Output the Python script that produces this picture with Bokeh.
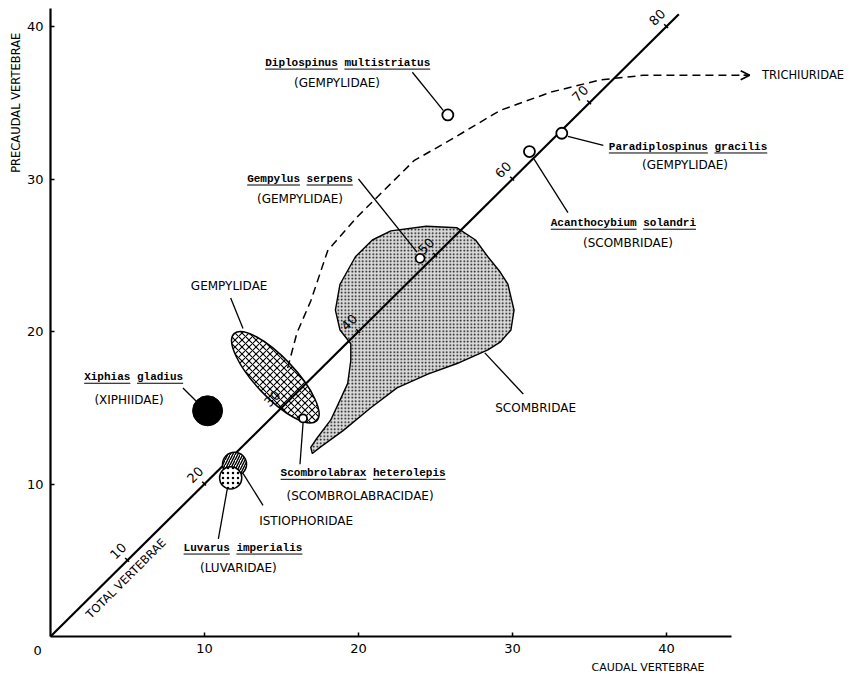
import math
from bokeh.plotting import figure
from bokeh.models import Range1d, Arrow, OpenHead
from bokeh.core.properties import value
from bokeh.embed import file_html
from bokeh.resources import INLINE

# ---------------- data ----------------
x_ticks = [10, 20, 30, 40]
y_ticks = [10, 20, 30, 40]
x_axis_end = 44.2
y_axis_end = 41.2

total_ticks = [10, 20, 30, 40, 50, 60, 70, 80]
total_line_end = 40.8

# single species shown as open circles (caudal, precaudal)
open_names = ["Diplospinus multistriatus", "Paradiplospinus gracilis",
              "Acanthocybium solandri", "Gempylus serpens",
              "Scombrolabrax heterolepis"]
open_caudal = [25.8, 33.2, 31.1, 24.0, 16.4]
open_precaudal = [34.2, 33.0, 31.8, 24.8, 14.3]

xiphias_caudal = [10.2]
xiphias_precaudal = [14.8]

istio_caudal = [11.95]
istio_precaudal = [11.3]
luvarus_caudal = [11.7]
luvarus_precaudal = [10.4]

# Gempylidae range (ellipse): centre, long / short axis, tilt (deg)
gemp_caudal = [14.6]
gemp_precaudal = [17.0]
gemp_long = 7.8
gemp_short = 2.6
gemp_tilt = -46.6

# Scombridae range outline
scomb_caudal = [22.1, 24.4, 26.4, 27.6, 28.4, 29.2, 29.7, 30.1, 29.9, 29.2,
                28.4, 26.4, 24.5, 22.5, 20.8, 19.0, 17.5, 17.0, 16.9, 17.3,
                18.2, 18.8, 19.3, 19.5, 19.5, 18.8, 18.5, 18.8, 19.8, 20.9]
scomb_precaudal = [26.6, 26.9, 26.8, 26.0, 24.9, 23.9, 23.1, 21.4, 20.1, 19.3,
                   18.8, 17.9, 17.2, 16.3, 15.0, 13.5, 12.4, 12.0, 12.4, 13.0,
                   14.2, 15.5, 16.6, 18.1, 19.2, 20.1, 21.4, 23.1, 24.9, 26.0]

# trend toward Trichiuridae (dashed)
trend_caudal = [15.4, 16.0, 16.9, 18.0, 19.9, 21.0, 23.6, 26.2, 29.2, 32.5,
                35.7, 38.5, 42.0, 45.4]
trend_precaudal = [17.6, 19.9, 22.0, 25.3, 27.5, 28.6, 31.2, 32.7, 34.5, 35.7,
                   36.5, 36.8, 36.8, 36.8]

species_labels = ["Diplospinus multistriatus", "Paradiplospinus gracilis",
                  "Acanthocybium solandri", "Gempylus serpens",
                  "Xiphias gladius", "Scombrolabrax heterolepis",
                  "Luvarus imperialis"]
family_labels = ["(GEMPYLIDAE)", "(GEMPYLIDAE)", "(SCOMBRIDAE)", "(GEMPYLIDAE)",
                 "(XIPHIIDAE)", "(SCOMBROLABRACIDAE)", "(LUVARIDAE)"]
group_labels = ["GEMPYLIDAE", "SCOMBRIDAE", "ISTIOPHORIDAE"]

# ---------------- layout (label placement) ----------------
sp_lx = [19.3, 41.4, 37.2, 16.2, 5.4, 20.3, 12.5]
sp_ly = [37.6, 32.1, 27.1, 30.0, 17.0, 10.7, 5.8]
fam_lx = [18.6, 41.2, 37.5, 16.2, 5.1, 20.1, 12.2]
fam_ly = [36.3, 30.9, 25.8, 28.7, 15.5, 9.2, 4.5]
grp_lx = [11.6, 31.5, 16.6]
grp_ly = [23.0, 15.0, 7.6]

lead_x0 = [23.5, 33.6, 31.4, 20.0, 8.6, 16.4, 11.5, 11.7, 28.2, 12.5]
lead_y0 = [37.0, 32.8, 31.3, 30.0, 16.3, 14.0, 9.8, 22.2, 18.6, 10.7]
lead_x1 = [25.5, 35.9, 33.6, 23.8, 9.6, 16.2, 10.9, 12.5, 30.7, 13.8]
lead_y1 = [34.5, 32.2, 27.8, 25.2, 15.3, 11.3, 6.4, 20.2, 15.9, 8.6]

W, H = 854, 674
PXX, PXY = 15.4, 15.25          # pixels per vertebra
OX, OY = 50, 636                # origin position in the figure
X0, X1 = -OX / PXX, (W - OX) / PXX
Y0, Y1 = -(H - OY) / PXY, OY / PXY
sx, sy = PXX, PXY

SANS = "DejaVu Sans"
MONO = "Liberation Mono"

p = figure(width=W, height=H, x_range=Range1d(X0, X1), y_range=Range1d(Y0, Y1),
           output_backend="svg", toolbar_location=None, min_border=0)
p.outline_line_color = None
p.xgrid.visible = False
p.ygrid.visible = False
p.background_fill_color = "white"

for ax, end, ticks in ((p.xaxis, x_axis_end, x_ticks), (p.yaxis, y_axis_end, y_ticks)):
    ax.fixed_location = 0
    ax.bounds = (0, end)
    ax.ticker = ticks
    ax.axis_line_width = 2.2
    ax.axis_line_color = "black"
    ax.major_tick_in = 4
    ax.major_tick_out = 0
    ax.major_tick_line_width = 1.5
    ax.minor_tick_in = 0
    ax.minor_tick_out = 0
    ax.major_label_text_font = SANS
    ax.major_label_text_font_size = "13px"
    ax.major_label_text_color = "black"
    ax.major_label_standoff = 7

# Scombridae range
p.patch(scomb_caudal, scomb_precaudal, fill_color="#dadada", line_color="black",
        line_width=1.4, hatch_pattern="dot", hatch_scale=3.5, hatch_color="black",
        hatch_weight=0.9)

# Gempylidae ellipse
p.ellipse(x=gemp_caudal, y=gemp_precaudal, width=gemp_long, height=gemp_short,
          angle=math.radians(gemp_tilt), fill_color="white", line_color="black",
          line_width=1.5, hatch_pattern="diagonal_cross", hatch_scale=7,
          hatch_weight=1.1, hatch_color="black")

# dashed trend
p.line(trend_caudal, trend_precaudal, line_color="black", line_width=1.5,
       line_dash="8 5")
p.add_layout(Arrow(end=OpenHead(size=9, line_width=1.6),
                   x_start=trend_caudal[-1] - 0.4, y_start=trend_precaudal[-1],
                   x_end=trend_caudal[-1], y_end=trend_precaudal[-1],
                   line_width=1.5))

# total vertebrae line
p.line([0, total_line_end], [0, total_line_end], line_color="black", line_width=2.2)
tk = [t / 2 for t in total_ticks]
p.segment(x0=[v - 0.15 for v in tk], y0=[v + 0.15 for v in tk],
          x1=[v + 0.1 for v in tk], y1=[v - 0.1 for v in tk],
          line_color="black", line_width=1.5)
p.text(x=[v - 0.6 for v in tk], y=[v + 0.6 for v in tk],
       text=[str(t) for t in total_ticks], angle=math.pi / 4,
       text_font=value(SANS), text_font_size="13px", text_align="center",
       text_baseline="middle", text_color="black")
p.text(x=[4.9], y=[3.8], text=["TOTAL VERTEBRAE"], angle=math.pi / 4,
       text_font=value(SANS), text_font_size="11.5px", text_align="center",
       text_baseline="middle", text_color="black")

# Istiophoridae & Luvarus
p.circle(x=istio_caudal, y=istio_precaudal, radius=0.78, fill_color="white",
         line_color="black", line_width=1.5, hatch_pattern="right_diagonal_line",
         hatch_scale=5, hatch_weight=1.4, hatch_color="black")
p.circle(x=luvarus_caudal, y=luvarus_precaudal, radius=0.72, fill_color="white",
         line_color="black", line_width=1.5, hatch_pattern="dot",
         hatch_scale=5, hatch_weight=1.6, hatch_color="black")

# Xiphias
p.scatter(x=xiphias_caudal, y=xiphias_precaudal, size=30, marker="circle",
          fill_color="black", line_color="black")

# leaders
p.segment(x0=lead_x0, y0=lead_y0, x1=lead_x1, y1=lead_y1, line_color="black",
          line_width=1.3)

# open circles
p.scatter(x=open_caudal, y=open_precaudal, size=[11, 11, 11, 9, 8],
          marker="circle", fill_color="white", line_color="black", line_width=1.8)

# species labels (monospace, underlined per word)
p.text(x=sp_lx, y=sp_ly, text=species_labels, text_font=value(MONO),
       text_font_style="bold", text_font_size="11px", text_align="center",
       text_baseline="middle", text_color="black")
cw = 0.6 * 11
ux0, ux1, uy = [], [], []
for lab, cx, cy in zip(species_labels, sp_lx, sp_ly):
    start = -len(lab) * cw / 2
    i = 0
    for word in lab.split(" "):
        ux0.append(cx + (start + i * cw) / sx)
        ux1.append(cx + (start + (i + len(word)) * cw) / sx)
        uy.append(cy - 6 / sy)
        i += len(word) + 1
p.segment(x0=ux0, y0=uy, x1=ux1, y1=uy, line_color="black", line_width=1)

p.text(x=fam_lx, y=fam_ly, text=family_labels, text_font=value(SANS),
       text_font_size="12px", text_align="center", text_baseline="middle",
       text_color="black")
p.text(x=grp_lx, y=grp_ly, text=group_labels, text_font=value(SANS),
       text_font_size="12px", text_align="center", text_baseline="middle",
       text_color="black")
p.text(x=[trend_caudal[-1] + 0.8], y=[trend_precaudal[-1]], text=["TRICHIURIDAE"],
       text_font=value(SANS), text_font_size="11.5px", text_align="left",
       text_baseline="middle", text_color="black")

# axis titles and origin label
p.text(x=[-2.27], y=[35.0], text=["PRECAUDAL VERTEBRAE"], angle=math.pi / 2,
       text_font=value(SANS), text_font_size="11.5px", text_align="center",
       text_baseline="middle", text_color="black")
p.text(x=[38.8], y=[-2.03], text=["CAUDAL VERTEBRAE"], text_font=value(SANS),
       text_font_size="11px", text_align="center", text_baseline="middle",
       text_color="black")
p.text(x=[-0.84], y=[-0.92], text=["0"], text_font=value(SANS),
       text_font_size="13px", text_align="center", text_baseline="middle",
       text_color="black")

open("out.html", "w").write(file_html(p, INLINE))
